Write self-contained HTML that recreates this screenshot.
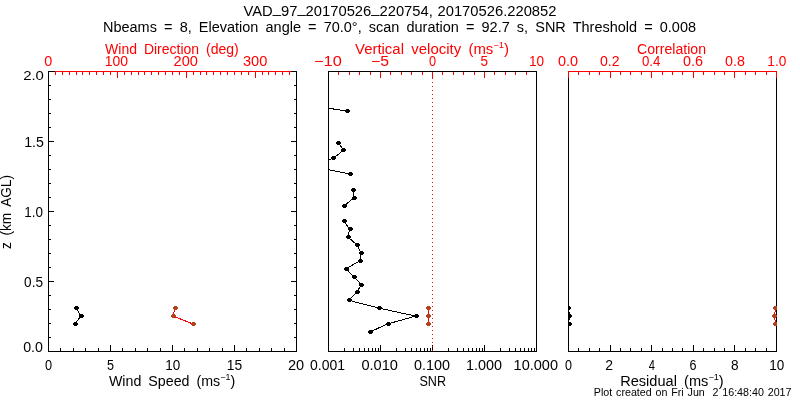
<!DOCTYPE html>
<html><head><meta charset="utf-8"><style>html,body{margin:0;padding:0;background:#fff;width:800px;height:400px;overflow:hidden}svg{display:block;will-change:transform}</style></head>
<body><svg width="800" height="400" viewBox="0 0 800 400" font-family="'Liberation Sans', sans-serif">
<defs><clipPath id="c2"><rect x="328" y="71" width="209" height="281"/></clipPath><clipPath id="c3"><rect x="568" y="71" width="209" height="281"/></clipPath></defs>
<rect width="800" height="400" fill="#fff"/>
<rect x="48" y="71" width="249" height="1" fill="#000000"/>
<rect x="48" y="351" width="249" height="1" fill="#000000"/>
<rect x="48" y="71" width="1" height="281" fill="#000000"/>
<rect x="296" y="71" width="1" height="281" fill="#000000"/>
<rect x="328" y="71" width="209" height="1" fill="#000000"/>
<rect x="328" y="351" width="209" height="1" fill="#000000"/>
<rect x="328" y="71" width="1" height="281" fill="#000000"/>
<rect x="536" y="71" width="1" height="281" fill="#000000"/>
<rect x="568" y="71" width="209" height="1" fill="#000000"/>
<rect x="568" y="351" width="209" height="1" fill="#000000"/>
<rect x="568" y="71" width="1" height="281" fill="#000000"/>
<rect x="776" y="71" width="1" height="281" fill="#000000"/>
<rect x="55" y="71" width="236" height="1" fill="#ff0000"/>
<rect x="55" y="72" width="1" height="3" fill="#ff0000"/>
<rect x="62" y="72" width="1" height="3" fill="#ff0000"/>
<rect x="69" y="72" width="1" height="3" fill="#ff0000"/>
<rect x="76" y="72" width="1" height="3" fill="#ff0000"/>
<rect x="82" y="72" width="1" height="3" fill="#ff0000"/>
<rect x="89" y="72" width="1" height="3" fill="#ff0000"/>
<rect x="96" y="72" width="1" height="3" fill="#ff0000"/>
<rect x="103" y="72" width="1" height="3" fill="#ff0000"/>
<rect x="110" y="72" width="1" height="3" fill="#ff0000"/>
<rect x="117" y="72" width="1" height="6" fill="#ff0000"/>
<rect x="124" y="72" width="1" height="3" fill="#ff0000"/>
<rect x="131" y="72" width="1" height="3" fill="#ff0000"/>
<rect x="138" y="72" width="1" height="3" fill="#ff0000"/>
<rect x="144" y="72" width="1" height="3" fill="#ff0000"/>
<rect x="151" y="72" width="1" height="3" fill="#ff0000"/>
<rect x="158" y="72" width="1" height="3" fill="#ff0000"/>
<rect x="165" y="72" width="1" height="3" fill="#ff0000"/>
<rect x="172" y="72" width="1" height="3" fill="#ff0000"/>
<rect x="179" y="72" width="1" height="3" fill="#ff0000"/>
<rect x="186" y="72" width="1" height="6" fill="#ff0000"/>
<rect x="193" y="72" width="1" height="3" fill="#ff0000"/>
<rect x="200" y="72" width="1" height="3" fill="#ff0000"/>
<rect x="206" y="72" width="1" height="3" fill="#ff0000"/>
<rect x="213" y="72" width="1" height="3" fill="#ff0000"/>
<rect x="220" y="72" width="1" height="3" fill="#ff0000"/>
<rect x="227" y="72" width="1" height="3" fill="#ff0000"/>
<rect x="234" y="72" width="1" height="3" fill="#ff0000"/>
<rect x="241" y="72" width="1" height="3" fill="#ff0000"/>
<rect x="248" y="72" width="1" height="3" fill="#ff0000"/>
<rect x="255" y="72" width="1" height="6" fill="#ff0000"/>
<rect x="262" y="72" width="1" height="3" fill="#ff0000"/>
<rect x="268" y="72" width="1" height="3" fill="#ff0000"/>
<rect x="275" y="72" width="1" height="3" fill="#ff0000"/>
<rect x="282" y="72" width="1" height="3" fill="#ff0000"/>
<rect x="289" y="72" width="1" height="3" fill="#ff0000"/>
<rect x="60" y="348" width="1" height="3" fill="#000000"/>
<rect x="73" y="348" width="1" height="3" fill="#000000"/>
<rect x="85" y="348" width="1" height="3" fill="#000000"/>
<rect x="98" y="348" width="1" height="3" fill="#000000"/>
<rect x="110" y="345" width="1" height="6" fill="#000000"/>
<rect x="122" y="348" width="1" height="3" fill="#000000"/>
<rect x="135" y="348" width="1" height="3" fill="#000000"/>
<rect x="147" y="348" width="1" height="3" fill="#000000"/>
<rect x="160" y="348" width="1" height="3" fill="#000000"/>
<rect x="172" y="345" width="1" height="6" fill="#000000"/>
<rect x="184" y="348" width="1" height="3" fill="#000000"/>
<rect x="197" y="348" width="1" height="3" fill="#000000"/>
<rect x="209" y="348" width="1" height="3" fill="#000000"/>
<rect x="222" y="348" width="1" height="3" fill="#000000"/>
<rect x="234" y="345" width="1" height="6" fill="#000000"/>
<rect x="246" y="348" width="1" height="3" fill="#000000"/>
<rect x="259" y="348" width="1" height="3" fill="#000000"/>
<rect x="271" y="348" width="1" height="3" fill="#000000"/>
<rect x="284" y="348" width="1" height="3" fill="#000000"/>
<rect x="49" y="337" width="2" height="1" fill="#000000"/>
<rect x="294" y="337" width="2" height="1" fill="#000000"/>
<rect x="49" y="323" width="2" height="1" fill="#000000"/>
<rect x="294" y="323" width="2" height="1" fill="#000000"/>
<rect x="49" y="309" width="2" height="1" fill="#000000"/>
<rect x="294" y="309" width="2" height="1" fill="#000000"/>
<rect x="49" y="295" width="2" height="1" fill="#000000"/>
<rect x="294" y="295" width="2" height="1" fill="#000000"/>
<rect x="49" y="281" width="5" height="1" fill="#000000"/>
<rect x="291" y="281" width="5" height="1" fill="#000000"/>
<rect x="49" y="267" width="2" height="1" fill="#000000"/>
<rect x="294" y="267" width="2" height="1" fill="#000000"/>
<rect x="49" y="253" width="2" height="1" fill="#000000"/>
<rect x="294" y="253" width="2" height="1" fill="#000000"/>
<rect x="49" y="239" width="2" height="1" fill="#000000"/>
<rect x="294" y="239" width="2" height="1" fill="#000000"/>
<rect x="49" y="225" width="2" height="1" fill="#000000"/>
<rect x="294" y="225" width="2" height="1" fill="#000000"/>
<rect x="49" y="211" width="5" height="1" fill="#000000"/>
<rect x="291" y="211" width="5" height="1" fill="#000000"/>
<rect x="49" y="197" width="2" height="1" fill="#000000"/>
<rect x="294" y="197" width="2" height="1" fill="#000000"/>
<rect x="49" y="183" width="2" height="1" fill="#000000"/>
<rect x="294" y="183" width="2" height="1" fill="#000000"/>
<rect x="49" y="169" width="2" height="1" fill="#000000"/>
<rect x="294" y="169" width="2" height="1" fill="#000000"/>
<rect x="49" y="155" width="2" height="1" fill="#000000"/>
<rect x="294" y="155" width="2" height="1" fill="#000000"/>
<rect x="49" y="141" width="5" height="1" fill="#000000"/>
<rect x="291" y="141" width="5" height="1" fill="#000000"/>
<rect x="49" y="127" width="2" height="1" fill="#000000"/>
<rect x="294" y="127" width="2" height="1" fill="#000000"/>
<rect x="49" y="113" width="2" height="1" fill="#000000"/>
<rect x="294" y="113" width="2" height="1" fill="#000000"/>
<rect x="49" y="99" width="2" height="1" fill="#000000"/>
<rect x="294" y="99" width="2" height="1" fill="#000000"/>
<rect x="49" y="85" width="2" height="1" fill="#000000"/>
<rect x="294" y="85" width="2" height="1" fill="#000000"/>
<rect x="338" y="72" width="1" height="3" fill="#ff0000"/>
<rect x="349" y="72" width="1" height="3" fill="#ff0000"/>
<rect x="359" y="72" width="1" height="3" fill="#ff0000"/>
<rect x="370" y="72" width="1" height="3" fill="#ff0000"/>
<rect x="380" y="72" width="1" height="6" fill="#ff0000"/>
<rect x="390" y="72" width="1" height="3" fill="#ff0000"/>
<rect x="401" y="72" width="1" height="3" fill="#ff0000"/>
<rect x="411" y="72" width="1" height="3" fill="#ff0000"/>
<rect x="422" y="72" width="1" height="3" fill="#ff0000"/>
<rect x="432" y="72" width="1" height="6" fill="#ff0000"/>
<rect x="442" y="72" width="1" height="3" fill="#ff0000"/>
<rect x="453" y="72" width="1" height="3" fill="#ff0000"/>
<rect x="463" y="72" width="1" height="3" fill="#ff0000"/>
<rect x="474" y="72" width="1" height="3" fill="#ff0000"/>
<rect x="484" y="72" width="1" height="6" fill="#ff0000"/>
<rect x="494" y="72" width="1" height="3" fill="#ff0000"/>
<rect x="505" y="72" width="1" height="3" fill="#ff0000"/>
<rect x="515" y="72" width="1" height="3" fill="#ff0000"/>
<rect x="526" y="72" width="1" height="3" fill="#ff0000"/>
<rect x="344" y="348" width="1" height="3" fill="#000000"/>
<rect x="353" y="348" width="1" height="3" fill="#000000"/>
<rect x="359" y="348" width="1" height="3" fill="#000000"/>
<rect x="364" y="348" width="1" height="3" fill="#000000"/>
<rect x="368" y="348" width="1" height="3" fill="#000000"/>
<rect x="372" y="348" width="1" height="3" fill="#000000"/>
<rect x="375" y="348" width="1" height="3" fill="#000000"/>
<rect x="378" y="348" width="1" height="3" fill="#000000"/>
<rect x="396" y="348" width="1" height="3" fill="#000000"/>
<rect x="405" y="348" width="1" height="3" fill="#000000"/>
<rect x="411" y="348" width="1" height="3" fill="#000000"/>
<rect x="416" y="348" width="1" height="3" fill="#000000"/>
<rect x="420" y="348" width="1" height="3" fill="#000000"/>
<rect x="424" y="348" width="1" height="3" fill="#000000"/>
<rect x="427" y="348" width="1" height="3" fill="#000000"/>
<rect x="430" y="348" width="1" height="3" fill="#000000"/>
<rect x="380" y="345" width="1" height="6" fill="#000000"/>
<rect x="448" y="348" width="1" height="3" fill="#000000"/>
<rect x="457" y="348" width="1" height="3" fill="#000000"/>
<rect x="463" y="348" width="1" height="3" fill="#000000"/>
<rect x="468" y="348" width="1" height="3" fill="#000000"/>
<rect x="472" y="348" width="1" height="3" fill="#000000"/>
<rect x="476" y="348" width="1" height="3" fill="#000000"/>
<rect x="479" y="348" width="1" height="3" fill="#000000"/>
<rect x="482" y="348" width="1" height="3" fill="#000000"/>
<rect x="432" y="345" width="1" height="6" fill="#000000"/>
<rect x="500" y="348" width="1" height="3" fill="#000000"/>
<rect x="509" y="348" width="1" height="3" fill="#000000"/>
<rect x="515" y="348" width="1" height="3" fill="#000000"/>
<rect x="520" y="348" width="1" height="3" fill="#000000"/>
<rect x="524" y="348" width="1" height="3" fill="#000000"/>
<rect x="528" y="348" width="1" height="3" fill="#000000"/>
<rect x="531" y="348" width="1" height="3" fill="#000000"/>
<rect x="534" y="348" width="1" height="3" fill="#000000"/>
<rect x="484" y="345" width="1" height="6" fill="#000000"/>
<rect x="432" y="78" width="1" height="1" fill="#ff0000"/>
<rect x="432" y="82" width="1" height="1" fill="#ff0000"/>
<rect x="432" y="86" width="1" height="1" fill="#ff0000"/>
<rect x="432" y="90" width="1" height="1" fill="#ff0000"/>
<rect x="432" y="94" width="1" height="1" fill="#ff0000"/>
<rect x="432" y="98" width="1" height="1" fill="#ff0000"/>
<rect x="432" y="102" width="1" height="1" fill="#ff0000"/>
<rect x="432" y="106" width="1" height="1" fill="#ff0000"/>
<rect x="432" y="110" width="1" height="1" fill="#ff0000"/>
<rect x="432" y="114" width="1" height="1" fill="#ff0000"/>
<rect x="432" y="118" width="1" height="1" fill="#ff0000"/>
<rect x="432" y="122" width="1" height="1" fill="#ff0000"/>
<rect x="432" y="126" width="1" height="1" fill="#ff0000"/>
<rect x="432" y="130" width="1" height="1" fill="#ff0000"/>
<rect x="432" y="134" width="1" height="1" fill="#ff0000"/>
<rect x="432" y="138" width="1" height="1" fill="#ff0000"/>
<rect x="432" y="142" width="1" height="1" fill="#ff0000"/>
<rect x="432" y="146" width="1" height="1" fill="#ff0000"/>
<rect x="432" y="150" width="1" height="1" fill="#ff0000"/>
<rect x="432" y="154" width="1" height="1" fill="#ff0000"/>
<rect x="432" y="158" width="1" height="1" fill="#ff0000"/>
<rect x="432" y="162" width="1" height="1" fill="#ff0000"/>
<rect x="432" y="166" width="1" height="1" fill="#ff0000"/>
<rect x="432" y="170" width="1" height="1" fill="#ff0000"/>
<rect x="432" y="174" width="1" height="1" fill="#ff0000"/>
<rect x="432" y="178" width="1" height="1" fill="#ff0000"/>
<rect x="432" y="182" width="1" height="1" fill="#ff0000"/>
<rect x="432" y="186" width="1" height="1" fill="#ff0000"/>
<rect x="432" y="190" width="1" height="1" fill="#ff0000"/>
<rect x="432" y="194" width="1" height="1" fill="#ff0000"/>
<rect x="432" y="198" width="1" height="1" fill="#ff0000"/>
<rect x="432" y="202" width="1" height="1" fill="#ff0000"/>
<rect x="432" y="206" width="1" height="1" fill="#ff0000"/>
<rect x="432" y="210" width="1" height="1" fill="#ff0000"/>
<rect x="432" y="214" width="1" height="1" fill="#ff0000"/>
<rect x="432" y="218" width="1" height="1" fill="#ff0000"/>
<rect x="432" y="222" width="1" height="1" fill="#ff0000"/>
<rect x="432" y="226" width="1" height="1" fill="#ff0000"/>
<rect x="432" y="230" width="1" height="1" fill="#ff0000"/>
<rect x="432" y="234" width="1" height="1" fill="#ff0000"/>
<rect x="432" y="238" width="1" height="1" fill="#ff0000"/>
<rect x="432" y="242" width="1" height="1" fill="#ff0000"/>
<rect x="432" y="246" width="1" height="1" fill="#ff0000"/>
<rect x="432" y="250" width="1" height="1" fill="#ff0000"/>
<rect x="432" y="254" width="1" height="1" fill="#ff0000"/>
<rect x="432" y="258" width="1" height="1" fill="#ff0000"/>
<rect x="432" y="262" width="1" height="1" fill="#ff0000"/>
<rect x="432" y="266" width="1" height="1" fill="#ff0000"/>
<rect x="432" y="270" width="1" height="1" fill="#ff0000"/>
<rect x="432" y="274" width="1" height="1" fill="#ff0000"/>
<rect x="432" y="278" width="1" height="1" fill="#ff0000"/>
<rect x="432" y="282" width="1" height="1" fill="#ff0000"/>
<rect x="432" y="286" width="1" height="1" fill="#ff0000"/>
<rect x="432" y="290" width="1" height="1" fill="#ff0000"/>
<rect x="432" y="294" width="1" height="1" fill="#ff0000"/>
<rect x="432" y="298" width="1" height="1" fill="#ff0000"/>
<rect x="432" y="302" width="1" height="1" fill="#ff0000"/>
<rect x="432" y="306" width="1" height="1" fill="#ff0000"/>
<rect x="432" y="310" width="1" height="1" fill="#ff0000"/>
<rect x="432" y="314" width="1" height="1" fill="#ff0000"/>
<rect x="432" y="318" width="1" height="1" fill="#ff0000"/>
<rect x="432" y="322" width="1" height="1" fill="#ff0000"/>
<rect x="432" y="326" width="1" height="1" fill="#ff0000"/>
<rect x="432" y="330" width="1" height="1" fill="#ff0000"/>
<rect x="432" y="334" width="1" height="1" fill="#ff0000"/>
<rect x="432" y="338" width="1" height="1" fill="#ff0000"/>
<rect x="432" y="342" width="1" height="1" fill="#ff0000"/>
<rect x="432" y="346" width="1" height="1" fill="#ff0000"/>
<rect x="432" y="350" width="1" height="1" fill="#ff0000"/>
<rect x="568" y="71" width="209" height="1" fill="#ff0000"/>
<rect x="568" y="71" width="1" height="7" fill="#ff0000"/>
<rect x="776" y="71" width="1" height="7" fill="#ff0000"/>
<rect x="578" y="72" width="1" height="3" fill="#ff0000"/>
<rect x="578" y="348" width="1" height="3" fill="#000000"/>
<rect x="589" y="72" width="1" height="3" fill="#ff0000"/>
<rect x="589" y="348" width="1" height="3" fill="#000000"/>
<rect x="599" y="72" width="1" height="3" fill="#ff0000"/>
<rect x="599" y="348" width="1" height="3" fill="#000000"/>
<rect x="610" y="72" width="1" height="6" fill="#ff0000"/>
<rect x="610" y="345" width="1" height="6" fill="#000000"/>
<rect x="620" y="72" width="1" height="3" fill="#ff0000"/>
<rect x="620" y="348" width="1" height="3" fill="#000000"/>
<rect x="630" y="72" width="1" height="3" fill="#ff0000"/>
<rect x="630" y="348" width="1" height="3" fill="#000000"/>
<rect x="641" y="72" width="1" height="3" fill="#ff0000"/>
<rect x="641" y="348" width="1" height="3" fill="#000000"/>
<rect x="651" y="72" width="1" height="6" fill="#ff0000"/>
<rect x="651" y="345" width="1" height="6" fill="#000000"/>
<rect x="662" y="72" width="1" height="3" fill="#ff0000"/>
<rect x="662" y="348" width="1" height="3" fill="#000000"/>
<rect x="672" y="72" width="1" height="3" fill="#ff0000"/>
<rect x="672" y="348" width="1" height="3" fill="#000000"/>
<rect x="682" y="72" width="1" height="3" fill="#ff0000"/>
<rect x="682" y="348" width="1" height="3" fill="#000000"/>
<rect x="693" y="72" width="1" height="6" fill="#ff0000"/>
<rect x="693" y="345" width="1" height="6" fill="#000000"/>
<rect x="703" y="72" width="1" height="3" fill="#ff0000"/>
<rect x="703" y="348" width="1" height="3" fill="#000000"/>
<rect x="714" y="72" width="1" height="3" fill="#ff0000"/>
<rect x="714" y="348" width="1" height="3" fill="#000000"/>
<rect x="724" y="72" width="1" height="3" fill="#ff0000"/>
<rect x="724" y="348" width="1" height="3" fill="#000000"/>
<rect x="734" y="72" width="1" height="6" fill="#ff0000"/>
<rect x="734" y="345" width="1" height="6" fill="#000000"/>
<rect x="745" y="72" width="1" height="3" fill="#ff0000"/>
<rect x="745" y="348" width="1" height="3" fill="#000000"/>
<rect x="755" y="72" width="1" height="3" fill="#ff0000"/>
<rect x="755" y="348" width="1" height="3" fill="#000000"/>
<rect x="766" y="72" width="1" height="3" fill="#ff0000"/>
<rect x="766" y="348" width="1" height="3" fill="#000000"/>
<polyline points="75.0,324.0 81.0,316.0 76.0,308.0" fill="none" stroke="#000000" stroke-width="1" shape-rendering="crispEdges"/>
<rect x="73" y="323" width="5" height="2" fill="#000000"/><rect x="74" y="322" width="3" height="4" fill="#000000"/>
<rect x="79" y="315" width="5" height="2" fill="#000000"/><rect x="80" y="314" width="3" height="4" fill="#000000"/>
<rect x="74" y="307" width="5" height="2" fill="#000000"/><rect x="75" y="306" width="3" height="4" fill="#000000"/>
<polyline points="193.0,324.0 173.0,316.0 175.0,308.0" fill="none" stroke="#ff0000" stroke-width="1" shape-rendering="crispEdges"/>
<rect x="191" y="323" width="5" height="2" fill="#b4401e"/><rect x="192" y="322" width="3" height="4" fill="#b4401e"/>
<rect x="171" y="315" width="5" height="2" fill="#b4401e"/><rect x="172" y="314" width="3" height="4" fill="#b4401e"/>
<rect x="173" y="307" width="5" height="2" fill="#b4401e"/><rect x="174" y="306" width="3" height="4" fill="#b4401e"/>
<g clip-path="url(#c2)">
<polyline points="370.0,331.9 387.5,324.0 415.6,316.1 379.4,308.2 348.8,300.3 356.9,292.4 361.2,284.6 353.8,276.7 346.2,268.8 359.6,260.9 361.2,253.0 357.2,245.1 348.1,237.2 349.6,229.3 344.1,221.4" fill="none" stroke="#000000" stroke-width="1" shape-rendering="crispEdges"/>
<polyline points="344.4,205.7 354.0,197.8 353.0,189.9" fill="none" stroke="#000000" stroke-width="1" shape-rendering="crispEdges"/>
<polyline points="350.4,174.1 310.5,166.2 333.1,158.3 343.4,150.4 338.4,142.5" fill="none" stroke="#000000" stroke-width="1" shape-rendering="crispEdges"/>
<polyline points="346.8,111.0 294.0,103.1" fill="none" stroke="#000000" stroke-width="1" shape-rendering="crispEdges"/>
<rect x="368" y="331" width="5" height="2" fill="#000000"/><rect x="369" y="330" width="3" height="4" fill="#000000"/>
<rect x="386" y="323" width="5" height="2" fill="#000000"/><rect x="387" y="322" width="3" height="4" fill="#000000"/>
<rect x="414" y="315" width="5" height="2" fill="#000000"/><rect x="415" y="314" width="3" height="4" fill="#000000"/>
<rect x="377" y="307" width="5" height="2" fill="#000000"/><rect x="378" y="306" width="3" height="4" fill="#000000"/>
<rect x="347" y="299" width="5" height="2" fill="#000000"/><rect x="348" y="298" width="3" height="4" fill="#000000"/>
<rect x="355" y="291" width="5" height="2" fill="#000000"/><rect x="356" y="290" width="3" height="4" fill="#000000"/>
<rect x="359" y="284" width="5" height="2" fill="#000000"/><rect x="360" y="283" width="3" height="4" fill="#000000"/>
<rect x="352" y="276" width="5" height="2" fill="#000000"/><rect x="353" y="275" width="3" height="4" fill="#000000"/>
<rect x="344" y="268" width="5" height="2" fill="#000000"/><rect x="345" y="267" width="3" height="4" fill="#000000"/>
<rect x="358" y="260" width="5" height="2" fill="#000000"/><rect x="359" y="259" width="3" height="4" fill="#000000"/>
<rect x="359" y="252" width="5" height="2" fill="#000000"/><rect x="360" y="251" width="3" height="4" fill="#000000"/>
<rect x="355" y="244" width="5" height="2" fill="#000000"/><rect x="356" y="243" width="3" height="4" fill="#000000"/>
<rect x="346" y="236" width="5" height="2" fill="#000000"/><rect x="347" y="235" width="3" height="4" fill="#000000"/>
<rect x="348" y="228" width="5" height="2" fill="#000000"/><rect x="349" y="227" width="3" height="4" fill="#000000"/>
<rect x="342" y="220" width="5" height="2" fill="#000000"/><rect x="343" y="219" width="3" height="4" fill="#000000"/>
<rect x="342" y="205" width="5" height="2" fill="#000000"/><rect x="343" y="204" width="3" height="4" fill="#000000"/>
<rect x="352" y="197" width="5" height="2" fill="#000000"/><rect x="353" y="196" width="3" height="4" fill="#000000"/>
<rect x="351" y="189" width="5" height="2" fill="#000000"/><rect x="352" y="188" width="3" height="4" fill="#000000"/>
<rect x="348" y="173" width="5" height="2" fill="#000000"/><rect x="349" y="172" width="3" height="4" fill="#000000"/>
<rect x="331" y="157" width="5" height="2" fill="#000000"/><rect x="332" y="156" width="3" height="4" fill="#000000"/>
<rect x="341" y="149" width="5" height="2" fill="#000000"/><rect x="342" y="148" width="3" height="4" fill="#000000"/>
<rect x="336" y="142" width="5" height="2" fill="#000000"/><rect x="337" y="141" width="3" height="4" fill="#000000"/>
<rect x="345" y="110" width="5" height="2" fill="#000000"/><rect x="346" y="109" width="3" height="4" fill="#000000"/>
<polyline points="428.4,324.0 428.4,316.0 428.4,308.2" fill="none" stroke="#ff0000" stroke-width="1" shape-rendering="crispEdges"/>
<rect x="426" y="323" width="5" height="2" fill="#b4401e"/><rect x="427" y="322" width="3" height="4" fill="#b4401e"/>
<rect x="426" y="315" width="5" height="2" fill="#b4401e"/><rect x="427" y="314" width="3" height="4" fill="#b4401e"/>
<rect x="426" y="307" width="5" height="2" fill="#b4401e"/><rect x="427" y="306" width="3" height="4" fill="#b4401e"/>
</g>
<g clip-path="url(#c3)">
<polyline points="568.5,324.0 569.5,316.0 568.5,308.0" fill="none" stroke="#000000" stroke-width="1" shape-rendering="crispEdges"/>
<rect x="567" y="323" width="5" height="2" fill="#000000"/><rect x="568" y="322" width="3" height="4" fill="#000000"/>
<rect x="567" y="315" width="5" height="2" fill="#000000"/><rect x="568" y="314" width="3" height="4" fill="#000000"/>
<rect x="566" y="307" width="5" height="2" fill="#000000"/><rect x="567" y="306" width="3" height="4" fill="#000000"/>
<polyline points="775.5,324.0 774.5,316.0 775.5,308.0" fill="none" stroke="#ff0000" stroke-width="1" shape-rendering="crispEdges"/>
<rect x="773" y="323" width="5" height="2" fill="#b4401e"/><rect x="774" y="322" width="3" height="4" fill="#b4401e"/>
<rect x="772" y="315" width="5" height="2" fill="#b4401e"/><rect x="773" y="314" width="3" height="4" fill="#b4401e"/>
<rect x="773" y="307" width="5" height="2" fill="#b4401e"/><rect x="774" y="306" width="3" height="4" fill="#b4401e"/>
</g>
<text id="title1" x="243.50" y="16.00" font-size="14.00" fill="#000000" word-spacing="0.5" textLength="313.00" lengthAdjust="spacingAndGlyphs">VAD<tspan dy="-2.6">_</tspan><tspan dy="2.6">97</tspan><tspan dy="-2.6">_</tspan><tspan dy="2.6">20170526</tspan><tspan dy="-2.6">_</tspan><tspan dy="2.6">220754, 20170526.220852</tspan></text>
<text id="title2" x="103.00" y="32.00" font-size="14.00" fill="#000000" word-spacing="3.0" textLength="593.00" lengthAdjust="spacingAndGlyphs">Nbeams = 8, Elevation angle = 70.0°, scan duration = 92.7 s, SNR Threshold = 0.008</text>
<text id="wdir" x="105.10" y="54.00" font-size="14.00" fill="#ff0000" word-spacing="3.0" textLength="133.60" lengthAdjust="spacingAndGlyphs">Wind Direction (deg)</text>
<text id="vvel" x="355.00" y="54.00" font-size="14.00" fill="#ff0000" word-spacing="3.0" textLength="154.00" lengthAdjust="spacingAndGlyphs">Vertical velocity (ms<tspan font-size="8.8" dy="-6">−1</tspan><tspan dy="6">)</tspan></text>
<text id="corr" x="637.00" y="54.00" font-size="14.00" fill="#ff0000" word-spacing="3.0" textLength="69.00" lengthAdjust="spacingAndGlyphs">Correlation</text>
<text id="p1t0" x="44.20" y="66.00" font-size="14.00" fill="#ff0000" word-spacing="3.0" textLength="8.00" lengthAdjust="spacingAndGlyphs">0</text>
<text id="p1t100" x="104.70" y="66.00" font-size="14.00" fill="#ff0000" word-spacing="3.0" textLength="23.30" lengthAdjust="spacingAndGlyphs">100</text>
<text id="p1t200" x="173.60" y="66.00" font-size="14.00" fill="#ff0000" word-spacing="3.0" textLength="24.20" lengthAdjust="spacingAndGlyphs">200</text>
<text id="p1t300" x="242.90" y="66.00" font-size="14.00" fill="#ff0000" word-spacing="3.0" textLength="24.40" lengthAdjust="spacingAndGlyphs">300</text>
<text id="p2t0" x="314.00" y="66.00" font-size="14.00" fill="#ff0000" word-spacing="3.0" textLength="27.75" lengthAdjust="spacingAndGlyphs">−10</text>
<text id="p2t1" x="371.00" y="66.00" font-size="14.00" fill="#ff0000" word-spacing="3.0" textLength="18.00" lengthAdjust="spacingAndGlyphs">−5</text>
<text id="p2t2" x="429.00" y="66.00" font-size="14.00" fill="#ff0000" word-spacing="3.0" textLength="7.10" lengthAdjust="spacingAndGlyphs">0</text>
<text id="p2t3" x="480.50" y="66.00" font-size="14.00" fill="#ff0000" word-spacing="3.0" textLength="7.50" lengthAdjust="spacingAndGlyphs">5</text>
<text id="p2t4" x="529.00" y="66.00" font-size="14.00" fill="#ff0000" word-spacing="3.0" textLength="15.10" lengthAdjust="spacingAndGlyphs">10</text>
<text id="p3t0.0" x="558.00" y="66.00" font-size="14.00" fill="#ff0000" word-spacing="3.0" textLength="20.00" lengthAdjust="spacingAndGlyphs">0.0</text>
<text id="p3t0.2" x="600.00" y="66.00" font-size="14.00" fill="#ff0000" word-spacing="3.0" textLength="19.60" lengthAdjust="spacingAndGlyphs">0.2</text>
<text id="p3t0.4" x="642.00" y="66.00" font-size="14.00" fill="#ff0000" word-spacing="3.0" textLength="18.40" lengthAdjust="spacingAndGlyphs">0.4</text>
<text id="p3t0.6" x="683.00" y="66.00" font-size="14.00" fill="#ff0000" word-spacing="3.0" textLength="20.00" lengthAdjust="spacingAndGlyphs">0.6</text>
<text id="p3t0.8" x="725.00" y="66.00" font-size="14.00" fill="#ff0000" word-spacing="3.0" textLength="19.90" lengthAdjust="spacingAndGlyphs">0.8</text>
<text id="p3t1.0" x="767.30" y="66.00" font-size="14.00" fill="#ff0000" word-spacing="3.0" textLength="19.00" lengthAdjust="spacingAndGlyphs">1.0</text>
<text id="yl2.0" x="23.15" y="80.00" font-size="13.60" fill="#000000" word-spacing="3.0" textLength="20.75" lengthAdjust="spacingAndGlyphs">2.0</text>
<text id="yl1.5" x="24.25" y="147.00" font-size="14.00" fill="#000000" word-spacing="3.0" textLength="19.65" lengthAdjust="spacingAndGlyphs">1.5</text>
<text id="yl1.0" x="24.25" y="217.00" font-size="14.00" fill="#000000" word-spacing="3.0" textLength="18.65" lengthAdjust="spacingAndGlyphs">1.0</text>
<text id="yl0.5" x="24.10" y="287.00" font-size="14.00" fill="#000000" word-spacing="3.0" textLength="18.90" lengthAdjust="spacingAndGlyphs">0.5</text>
<text id="yl0.0" x="23.20" y="352.00" font-size="14.00" fill="#000000" word-spacing="3.0" textLength="19.80" lengthAdjust="spacingAndGlyphs">0.0</text>
<text id="p1b0" x="45.00" y="370.00" font-size="14.00" fill="#000000" word-spacing="3.0" textLength="7.10" lengthAdjust="spacingAndGlyphs">0</text>
<text id="p1b5" x="107.00" y="370.00" font-size="14.00" fill="#000000" word-spacing="3.0" textLength="7.00" lengthAdjust="spacingAndGlyphs">5</text>
<text id="p1b10" x="165.30" y="370.00" font-size="14.00" fill="#000000" word-spacing="3.0" textLength="15.00" lengthAdjust="spacingAndGlyphs">10</text>
<text id="p1b15" x="226.70" y="370.00" font-size="14.00" fill="#000000" word-spacing="3.0" textLength="15.40" lengthAdjust="spacingAndGlyphs">15</text>
<text id="p1b20" x="288.00" y="370.00" font-size="14.00" fill="#000000" word-spacing="3.0" textLength="16.20" lengthAdjust="spacingAndGlyphs">20</text>
<text id="p2b0.001" x="310.00" y="370.00" font-size="14.00" fill="#000000" word-spacing="3.0" textLength="35.00" lengthAdjust="spacingAndGlyphs">0.001</text>
<text id="p2b0.010" x="361.40" y="370.00" font-size="14.00" fill="#000000" word-spacing="3.0" textLength="36.60" lengthAdjust="spacingAndGlyphs">0.010</text>
<text id="p2b0.100" x="414.00" y="370.00" font-size="14.00" fill="#000000" word-spacing="3.0" textLength="36.00" lengthAdjust="spacingAndGlyphs">0.100</text>
<text id="p2b1.000" x="466.00" y="370.00" font-size="14.00" fill="#000000" word-spacing="3.0" textLength="36.00" lengthAdjust="spacingAndGlyphs">1.000</text>
<text id="p2b10.000" x="513.60" y="370.00" font-size="14.00" fill="#000000" word-spacing="3.0" textLength="44.40" lengthAdjust="spacingAndGlyphs">10.000</text>
<text id="p3b0" x="565.00" y="370.00" font-size="14.00" fill="#000000" word-spacing="3.0" textLength="7.00" lengthAdjust="spacingAndGlyphs">0</text>
<text id="p3b2" x="605.20" y="370.00" font-size="14.00" fill="#000000" word-spacing="3.0" textLength="7.80" lengthAdjust="spacingAndGlyphs">2</text>
<text id="p3b4" x="648.80" y="370.00" font-size="14.00" fill="#000000" word-spacing="3.0" textLength="6.20" lengthAdjust="spacingAndGlyphs">4</text>
<text id="p3b6" x="689.50" y="370.00" font-size="14.00" fill="#000000" word-spacing="3.0" textLength="7.00" lengthAdjust="spacingAndGlyphs">6</text>
<text id="p3b8" x="731.00" y="370.00" font-size="14.00" fill="#000000" word-spacing="3.0" textLength="7.60" lengthAdjust="spacingAndGlyphs">8</text>
<text id="p3b10" x="769.20" y="370.00" font-size="14.00" fill="#000000" word-spacing="3.0" textLength="15.00" lengthAdjust="spacingAndGlyphs">10</text>
<text id="wspd" x="108.90" y="386.00" font-size="14.00" fill="#000000" word-spacing="3.0" textLength="126.30" lengthAdjust="spacingAndGlyphs">Wind Speed (ms<tspan font-size="8.8" dy="-6">−1</tspan><tspan dy="6">)</tspan></text>
<text id="snr" x="419.40" y="386.00" font-size="14.00" fill="#000000" word-spacing="3.0" textLength="26.60" lengthAdjust="spacingAndGlyphs">SNR</text>
<text id="resid" x="620.20" y="386.00" font-size="14.00" fill="#000000" word-spacing="3.0" textLength="103.50" lengthAdjust="spacingAndGlyphs">Residual (ms<tspan font-size="8.8" dy="-6">−1</tspan><tspan dy="6">)</tspan></text>
<text id="plot" x="593.80" y="396.00" font-size="10.00" fill="#000000" word-spacing="0.8" textLength="197.70" lengthAdjust="spacingAndGlyphs">Plot created on Fri Jun  2 16:48:40 2017</text>
<text id="zlab" transform="translate(11.30,249.00) rotate(-90)" font-size="14" fill="#000" word-spacing="3" textLength="74.00" lengthAdjust="spacingAndGlyphs">z (km AGL)</text>
</svg></body></html>
